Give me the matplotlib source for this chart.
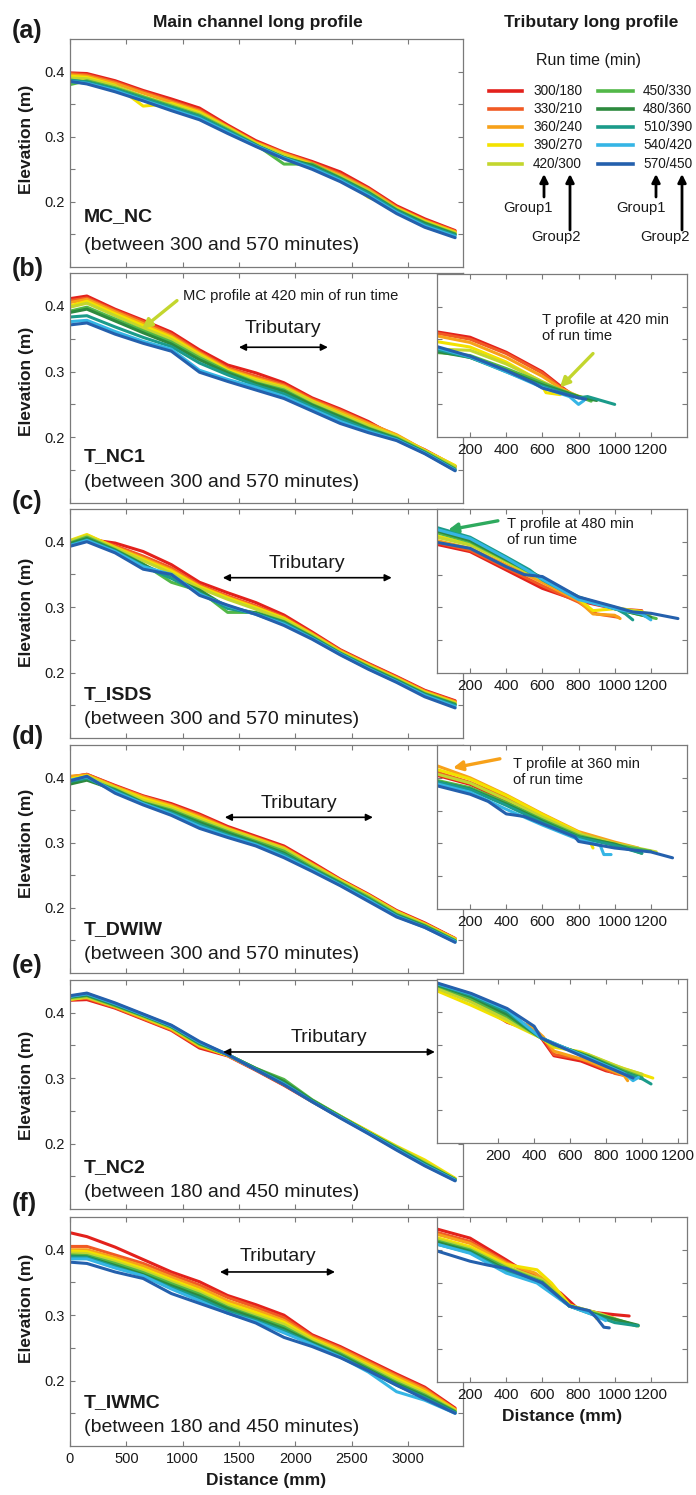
import matplotlib
matplotlib.use("Agg")
import matplotlib.pyplot as plt
from matplotlib import font_manager
from matplotlib.lines import Line2D

plt.rcParams['font.family'] = ['Liberation Sans', 'DejaVu Sans']

_names = {f.name for f in font_manager.fontManager.ttflist}
HAS_NARROW = 'Liberation Sans Narrow' in _names


def narrow(size):
    if HAS_NARROW:
        return dict(family=['Liberation Sans Narrow', 'Liberation Sans', 'DejaVu Sans'], fontsize=size)
    return dict(family=['Liberation Sans', 'DejaVu Sans'], fontsize=size * 0.82)


# ---------------- data ----------------
RUN_TIMES = ['300/180', '330/210', '360/240', '390/270', '420/300',
             '450/330', '480/360', '510/390', '540/420', '570/450']
COLORS = ['#e3211c', '#f15a24', '#f7a11a', '#f3e200', '#c3d62e',
          '#52b848', '#2d8a3e', '#1b9b8a', '#35b5e5', '#2460ad']

PANEL_LETTERS = ['(a)', '(b)', '(c)', '(d)', '(e)', '(f)']
PANEL_NAMES = ['MC_NC', 'T_NC1', 'T_ISDS', 'T_DWIW', 'T_NC2', 'T_IWMC']
PANEL_PERIODS = ['(between 300 and 570 minutes)', '(between 300 and 570 minutes)',
                 '(between 300 and 570 minutes)', '(between 300 and 570 minutes)',
                 '(between 180 and 450 minutes)', '(between 180 and 450 minutes)']

MAIN_X = [0, 150, 400, 650, 900, 1150, 1400, 1650, 1900, 2150, 2400, 2650, 2900, 3150, 3420]

MC_A = [
    [.398, .397, .386, .371, .358, .344, .318, .294, .276, .262, .246, .222, .194, .174, .156],
    [.397, .395, .384, .369, .355, .341, .316, .292, .275, .260, .243, .220, .192, .172, .155],
    [.395, .393, .382, .367, .353, .339, .315, .291, .274, .259, .241, .219, .191, .171, .154],
    [.393, .391, .379, .347, .351, .337, .314, .290, .272, .257, .238, .207, .190, .170, .153],
    [.390, .389, .378, .362, .349, .335, .313, .289, .271, .256, .239, .217, .189, .169, .152],
    [.380, .386, .375, .361, .347, .333, .311, .288, .258, .258, .237, .215, .188, .168, .151],
    [.386, .384, .373, .359, .345, .331, .309, .287, .268, .256, .236, .214, .187, .167, .150],
    [.387, .384, .373, .359, .345, .331, .309, .287, .268, .254, .235, .213, .186, .165, .149],
    [.385, .382, .371, .356, .342, .328, .307, .286, .267, .252, .233, .210, .184, .163, .147],
    [.385, .381, .369, .355, .340, .326, .305, .285, .266, .250, .231, .208, .182, .161, .145],
]
MC_B = [
    [.411, .415, .395, .378, .360, .333, .310, .298, .283, .260, .243, .224, .200, .181, .156],
    [.408, .412, .393, .376, .357, .330, .306, .293, .280, .258, .241, .222, .203, .180, .155],
    [.405, .410, .391, .373, .354, .328, .304, .290, .278, .256, .239, .221, .204, .180, .156],
    [.400, .407, .388, .370, .352, .326, .302, .288, .276, .255, .236, .218, .202, .180, .157],
    [.398, .404, .385, .366, .349, .324, .300, .286, .275, .254, .235, .217, .201, .179, .155],
    [.392, .398, .380, .362, .345, .321, .300, .283, .272, .250, .232, .214, .199, .178, .152],
    [.390, .395, .377, .359, .342, .318, .298, .282, .270, .249, .231, .213, .198, .177, .151],
    [.383, .385, .368, .352, .338, .313, .295, .279, .266, .246, .228, .211, .197, .176, .150],
    [.376, .378, .361, .346, .334, .302, .288, .276, .262, .243, .224, .209, .196, .176, .150],
    [.371, .374, .357, .343, .331, .299, .285, .272, .259, .240, .221, .207, .195, .175, .149],
]
MC_C = [
    [.397, .404, .398, .385, .365, .338, .322, .307, .288, .262, .235, .214, .194, .173, .157],
    [.399, .407, .394, .378, .360, .334, .317, .302, .285, .260, .234, .213, .193, .172, .156],
    [.400, .410, .392, .375, .357, .332, .315, .300, .283, .259, .233, .212, .192, .171, .155],
    [.402, .411, .391, .373, .355, .331, .314, .299, .283, .258, .232, .211, .191, .170, .154],
    [.401, .409, .390, .371, .352, .329, .312, .297, .281, .257, .231, .210, .190, .169, .153],
    [.398, .407, .388, .366, .338, .325, .292, .292, .278, .255, .230, .209, .189, .168, .152],
    [.397, .405, .387, .365, .345, .326, .300, .291, .277, .254, .229, .208, .188, .167, .151],
    [.395, .403, .386, .363, .344, .322, .298, .290, .276, .253, .229, .207, .187, .166, .150],
    [.394, .402, .385, .362, .350, .320, .302, .289, .274, .252, .228, .206, .186, .165, .148],
    [.393, .400, .383, .358, .350, .318, .303, .289, .272, .251, .227, .205, .185, .163, .146],
]
MC_D = [
    [.400, .405, .388, .372, .360, .344, .325, .310, .295, .270, .244, .221, .196, .177, .153],
    [.401, .405, .387, .371, .358, .342, .323, .308, .293, .268, .243, .220, .195, .176, .153],
    [.402, .404, .386, .370, .357, .340, .322, .307, .292, .267, .242, .219, .194, .175, .152],
    [.398, .403, .385, .368, .355, .338, .321, .306, .291, .266, .242, .219, .194, .175, .152],
    [.396, .402, .384, .365, .353, .336, .320, .305, .290, .265, .241, .218, .193, .174, .151],
    [.392, .398, .382, .362, .350, .333, .317, .302, .287, .262, .239, .216, .190, .173, .150],
    [.390, .396, .381, .361, .348, .331, .315, .300, .284, .260, .238, .214, .189, .172, .149],
    [.394, .399, .380, .360, .346, .328, .312, .298, .282, .259, .237, .213, .188, .171, .149],
    [.396, .401, .378, .360, .344, .325, .310, .297, .279, .258, .235, .212, .187, .170, .148],
    [.395, .402, .376, .358, .342, .322, .308, .295, .277, .256, .234, .210, .186, .170, .147],
]
MC_E = [
    [.419, .420, .407, .390, .373, .346, .334, .312, .289, .264, .240, .217, .192, .168, .145],
    [.421, .422, .408, .391, .374, .348, .335, .313, .290, .265, .241, .218, .193, .169, .146],
    [.422, .423, .409, .392, .375, .349, .335, .313, .290, .265, .241, .218, .194, .171, .146],
    [.420, .424, .410, .393, .376, .350, .335, .314, .291, .266, .242, .219, .196, .175, .147],
    [.421, .424, .410, .394, .377, .351, .336, .314, .291, .266, .242, .218, .195, .172, .146],
    [.423, .426, .411, .395, .378, .352, .336, .315, .298, .267, .242, .217, .194, .170, .145],
    [.424, .427, .412, .396, .379, .353, .336, .315, .295, .266, .241, .217, .193, .169, .145],
    [.425, .428, .413, .397, .380, .354, .336, .314, .292, .265, .240, .216, .192, .168, .144],
    [.425, .429, .414, .397, .380, .355, .336, .313, .291, .264, .240, .216, .191, .167, .144],
    [.426, .430, .415, .398, .381, .356, .336, .313, .290, .264, .239, .215, .190, .166, .143],
]
MC_F = [
    [.426, .420, .404, .385, .366, .351, .330, .316, .300, .270, .252, .231, .210, .190, .158],
    [.405, .405, .392, .379, .362, .346, .327, .312, .296, .268, .250, .229, .208, .188, .156],
    [.400, .400, .388, .375, .358, .342, .322, .308, .292, .266, .248, .227, .206, .186, .156],
    [.398, .397, .385, .371, .354, .338, .318, .304, .289, .264, .245, .224, .203, .183, .155],
    [.395, .394, .382, .368, .351, .335, .315, .300, .286, .262, .243, .222, .200, .181, .154],
    [.392, .391, .379, .365, .348, .332, .312, .297, .282, .259, .241, .219, .197, .178, .153],
    [.390, .389, .376, .362, .345, .329, .310, .295, .279, .258, .239, .217, .195, .176, .152],
    [.389, .388, .374, .360, .342, .326, .306, .292, .276, .256, .237, .215, .193, .174, .151],
    [.386, .386, .372, .360, .340, .322, .303, .290, .273, .255, .236, .213, .183, .170, .150],
    [.381, .379, .366, .356, .333, .318, .303, .288, .266, .252, .235, .215, .193, .172, .150],
]

TR_B_D = [[0, 200, 400, 600, 700, 750], [0, 200, 400, 600, 700, 780], [0, 200, 400, 600, 700, 800],
          [0, 200, 400, 580, 620, 700], [0, 200, 400, 600, 700, 850], [0, 200, 400, 600, 700, 870],
          [0, 200, 400, 600, 800, 900], [0, 200, 400, 600, 800, 850, 1000],
          [0, 200, 400, 600, 750, 800, 830], [0, 200, 400, 550, 600, 800, 840]]
TR_B_Z = [[.362, .353, .330, .300, .278, .268], [.360, .350, .328, .298, .276, .262],
          [.356, .345, .322, .293, .275, .262], [.347, .338, .315, .287, .268, .265],
          [.335, .333, .312, .285, .272, .258], [.330, .325, .305, .283, .272, .255],
          [.332, .322, .302, .280, .262, .256], [.335, .322, .300, .278, .260, .262, .250],
          [.338, .323, .300, .276, .262, .250, .256], [.340, .324, .302, .283, .275, .260, .258]]

TR_C_D = [[0, 200, 400, 600, 800, 1000, 1150], [0, 200, 400, 600, 800, 900, 1020],
          [0, 200, 400, 600, 800, 880, 1000, 1030], [0, 200, 400, 600, 800, 880, 1000, 1150],
          [0, 200, 400, 600, 800, 1000, 1200], [0, 200, 400, 600, 800, 1000, 1230],
          [0, 200, 400, 600, 800, 1000, 1200], [0, 200, 400, 530, 600, 800, 1000, 1060, 1100],
          [0, 200, 400, 600, 800, 1000, 1150, 1200],
          [0, 200, 400, 500, 600, 800, 1000, 1100, 1200, 1350]]
TR_C_Z = [[.397, .385, .357, .329, .310, .298, .295], [.400, .387, .360, .333, .308, .290, .285],
          [.403, .390, .365, .338, .310, .290, .288, .283], [.410, .396, .370, .343, .313, .295, .298, .294],
          [.408, .395, .370, .342, .315, .300, .290], [.415, .400, .372, .344, .316, .298, .283],
          [.418, .402, .373, .345, .315, .298, .285], [.423, .407, .377, .357, .342, .313, .299, .290, .281],
          [.420, .405, .375, .343, .312, .298, .290, .281],
          [.400, .390, .362, .350, .347, .316, .301, .293, .291, .283]]

TR_D_D = [[0, 200, 400, 600, 800, 1000, 1150], [0, 200, 400, 600, 800, 1000, 1100],
          [0, 200, 400, 600, 800, 1000, 1130], [0, 200, 400, 600, 800, 860, 880],
          [0, 200, 400, 600, 800, 1000, 1230], [0, 200, 400, 600, 800, 1000, 1200],
          [0, 200, 400, 600, 800, 1000, 1150], [0, 200, 400, 600, 800, 1000, 1150],
          [0, 200, 400, 600, 800, 920, 940, 980],
          [0, 200, 300, 400, 500, 600, 780, 800, 1000, 1200, 1320]]
TR_D_Z = [[.405, .390, .365, .335, .313, .297, .290], [.410, .393, .370, .340, .316, .300, .293],
          [.420, .400, .374, .345, .318, .302, .293], [.414, .398, .373, .344, .317, .305, .293],
          [.407, .392, .367, .340, .315, .300, .287], [.397, .385, .362, .336, .312, .298, .288],
          [.395, .383, .360, .334, .310, .299, .285], [.395, .382, .358, .332, .309, .297, .285],
          [.392, .378, .352, .328, .306, .297, .283, .283],
          [.389, .375, .364, .345, .341, .330, .310, .303, .293, .287, .278]]

TR_E_D = [[-140, 50, 250, 400, 440, 510, 660, 800, 880], [-140, 50, 250, 400, 450, 510, 660, 850, 900],
          [-140, 50, 250, 380, 450, 510, 700, 900, 920], [-140, 50, 250, 440, 510, 660, 850, 1060],
          [-140, 50, 250, 440, 510, 700, 900, 1000], [-140, 50, 250, 440, 510, 700, 900, 1000],
          [-140, 50, 250, 440, 510, 700, 900, 1000], [-140, 50, 250, 440, 510, 700, 900, 1000, 1050],
          [-140, 50, 250, 440, 510, 700, 900, 950, 980], [-140, 50, 250, 400, 440, 510, 660, 840, 950]]
TR_E_Z = [[.435, .418, .384, .370, .360, .333, .325, .310, .305], [.437, .420, .386, .375, .360, .335, .328, .306, .303],
          [.438, .422, .388, .379, .362, .340, .325, .303, .295], [.432, .410, .385, .360, .346, .339, .318, .299],
          [.436, .415, .388, .360, .348, .335, .313, .305], [.440, .420, .393, .360, .350, .333, .310, .300],
          [.441, .423, .396, .360, .351, .332, .308, .298], [.442, .425, .400, .360, .352, .330, .307, .298, .290],
          [.443, .427, .403, .360, .352, .330, .306, .295, .300], [.444, .428, .405, .378, .360, .351, .333, .312, .299]]

TR_F_D = [[0, 200, 400, 600, 700, 800, 900, 1000, 1080], [0, 200, 400, 550, 650, 750, 900, 1000],
          [0, 200, 400, 560, 650, 750, 900, 1050], [0, 200, 400, 570, 650, 750, 880, 900, 950, 1130],
          [0, 200, 400, 600, 750, 900, 1100], [0, 200, 400, 600, 750, 900, 1120],
          [0, 200, 400, 600, 750, 900, 1130], [0, 200, 400, 600, 750, 900, 1000, 1130],
          [0, 200, 400, 570, 600, 750, 900, 950], [0, 200, 300, 400, 600, 750, 860, 900, 940, 970]]
TR_F_Z = [[.433, .418, .385, .350, .335, .310, .305, .302, .300], [.428, .413, .382, .362, .345, .315, .305, .296],
          [.425, .410, .380, .365, .347, .316, .303, .290], [.420, .405, .378, .370, .350, .317, .305, .296, .298, .285],
          [.418, .402, .375, .355, .316, .305, .287], [.415, .400, .373, .352, .315, .303, .285],
          [.413, .398, .370, .350, .315, .302, .286], [.410, .396, .368, .348, .315, .300, .290, .285],
          [.410, .395, .365, .350, .344, .315, .300, .293], [.400, .383, .377, .372, .350, .315, .308, .297, .283, .282]]

MAIN_DATA = [MC_A, MC_B, MC_C, MC_D, MC_E, MC_F]
TRIB_DATA = {1: (TR_B_D, TR_B_Z), 2: (TR_C_D, TR_C_Z), 3: (TR_D_D, TR_D_Z),
             4: (TR_E_D, TR_E_Z), 5: (TR_F_D, TR_F_Z)}

# tributary reach arrows on main panels: (x0, x1, y_arrow, y_text)
TRIB_ARROWS = {1: (1500, 2290, 0.337, 0.365), 2: (1357, 2857, 0.345, 0.366),
               3: (1375, 2690, 0.339, 0.360), 4: (1360, 3240, 0.340, 0.362),
               5: (1332, 2353, 0.366, 0.389)}

# ---------------- layout ----------------
W, H = 696, 1495
fig = plt.figure(figsize=(W / 100, H / 100), dpi=100)
SPINE = '#7a7a7a'
TXT = '#1a1a1a'
LW = 2.2


def rect(l, t, w, h):
    return [l / W, 1 - (t + h) / H, w / W, h / H]


MAIN_BOXES = [(70, 39, 393, 228), (70, 273, 393, 230), (70, 509, 393, 229),
              (70, 745, 393, 228), (70, 980, 393, 229), (70, 1217, 393, 229)]
TRIB_BOXES = {1: (437, 274, 250, 163), 2: (437, 509, 250, 164), 3: (437, 745, 250, 164),
              4: (437, 979, 250, 164), 5: (437, 1217, 250, 165)}
YLABEL_Y = [0.56, 0.53, 0.55, 0.57, 0.54, 0.60]
NAME_Y = [0.22, 0.20, 0.19, 0.19, 0.18, 0.19]
PERIOD_Y = [0.096, 0.087, 0.08, 0.08, 0.07, 0.08]
LETTER_Y = [31, 269, 502, 737, 966, 1204]


def style_axes(ax, labelsize):
    for s in ax.spines.values():
        s.set_color(SPINE)
        s.set_linewidth(0.9)
    ax.tick_params(direction='in', top=True, right=True, length=3.5, width=0.8,
                   color=SPINE, labelsize=labelsize, labelcolor=TXT, pad=4)


for i in range(6):
    ax = fig.add_axes(rect(*MAIN_BOXES[i]), zorder=1)
    for k in range(10):
        ax.plot(MAIN_X, MAIN_DATA[i][k], color=COLORS[k], lw=LW,
                solid_capstyle='round', solid_joinstyle='round')
    ax.set_xlim(0, 3490)
    ax.set_ylim(0.1, 0.45)
    ax.set_xticks([0, 500, 1000, 1500, 2000, 2500, 3000])
    ax.set_yticks([0.15, 0.2, 0.25, 0.3, 0.35, 0.4])
    ax.set_yticklabels(['', '0.2', '', '0.3', '', '0.4'])
    style_axes(ax, 10.5)
    if i < 5:
        ax.tick_params(labelbottom=False)
    else:
        ax.set_xlabel('Distance (mm)', fontsize=12.5, fontweight='bold', color=TXT, labelpad=5)
    ax.set_ylabel('Elevation (m)', fontsize=12.5, fontweight='bold', color=TXT)
    ax.yaxis.set_label_coords(-0.092, YLABEL_Y[i])
    ax.text(0.035, NAME_Y[i], PANEL_NAMES[i], transform=ax.transAxes, fontsize=14,
            fontweight='bold', color=TXT, va='center', ha='left')
    ax.text(0.035, PERIOD_Y[i], PANEL_PERIODS[i], transform=ax.transAxes, fontsize=14,
            color=TXT, va='center', ha='left')
    fig.text(12 / W, 1 - LETTER_Y[i] / H, PANEL_LETTERS[i], fontsize=18, fontweight='bold',
             color=TXT, ha='left', va='center')
    if i in TRIB_ARROWS:
        x0, x1, ya, yt = TRIB_ARROWS[i]
        ax.annotate('', xy=(x1, ya), xytext=(x0, ya),
                    arrowprops=dict(arrowstyle='<|-|>', color='black', lw=1.2,
                                    mutation_scale=10, shrinkA=0, shrinkB=0))
        ax.text((x0 + x1) / 2, yt, 'Tributary', fontsize=14, color=TXT, ha='center', va='center')
    if i == 1:
        ax.annotate('', xy=(640, 0.365), xytext=(950, 0.408),
                    arrowprops=dict(arrowstyle='-|>', color=COLORS[4], lw=2.4,
                                    mutation_scale=14, shrinkA=0, shrinkB=0))
        ax.text(1003, 0.415, 'MC profile at 420 min of run time', color=TXT,
                ha='left', va='center', **narrow(13))

# tributary panels
TRIB_NOTES = {1: ('T profile at 420 min\nof run time', 598, 0.367, (697, 0.276), (880, 0.328), COLORS[4]),
              2: ('T profile at 480 min\nof run time', 404, 0.4145, (78, 0.418), (354, 0.432), '#2eaa5e'),
              3: ('T profile at 360 min\nof run time', 437, 0.409, (105, 0.415), (365, 0.429), COLORS[2])}

for j in range(1, 6):
    ax = fig.add_axes(rect(*TRIB_BOXES[j]), zorder=3)
    ax.set_facecolor('white')
    dlist, zlist = TRIB_DATA[j]
    for k in range(10):
        ax.plot(dlist[k], zlist[k], color=COLORS[k], lw=LW,
                solid_capstyle='round', solid_joinstyle='round')
    if j == 4:
        ax.set_xlim(-140, 1250)
    else:
        ax.set_xlim(17, 1400)
    ax.set_ylim(0.2, 0.45)
    ax.set_xticks([200, 400, 600, 800, 1000, 1200])
    ax.set_yticks([0.25, 0.3, 0.35, 0.4])
    ax.set_yticklabels([])
    style_axes(ax, 11)
    if j == 5:
        ax.set_xlabel('Distance (mm)', fontsize=12.5, fontweight='bold', color=TXT, labelpad=5)
    if j in TRIB_NOTES:
        txt, tx, ty, tip, tail, col = TRIB_NOTES[j]
        ax.annotate('', xy=tip, xytext=tail,
                    arrowprops=dict(arrowstyle='-|>', color=col, lw=2.4,
                                    mutation_scale=14, shrinkA=0, shrinkB=0))
        ax.text(tx, ty, txt, color=TXT, ha='left', va='center', linespacing=1.15, **narrow(13))

# headings
fig.text(258 / W, 1 - 22 / H, 'Main channel long profile', fontsize=12.5, fontweight='bold',
         color=TXT, ha='center', va='center')
fig.text(591 / W, 1 - 22 / H, 'Tributary long profile', fontsize=12.5, fontweight='bold',
         color=TXT, ha='center', va='center')
fig.text(589 / W, 1 - 60 / H, 'Run time (min)', fontsize=11.5, color=TXT, ha='center', va='center')

# legend (drawn manually)
ROW_Y = [91, 109, 127, 145, 164]
COL_LINE = [(489, 522, 533), (598, 633, 643)]
for k, lab in enumerate(RUN_TIMES):
    c, r = divmod(k, 5)
    x0, x1, xt = COL_LINE[c]
    y = 1 - ROW_Y[r] / H
    fig.add_artist(Line2D([x0 / W, x1 / W], [y, y], color=COLORS[k], lw=2.6,
                          transform=fig.transFigure))
    fig.text(xt / W, y, lab, color=TXT, ha='left', va='center', **narrow(12))

# group arrows
GROUPS = [('Group1', 528, 208, 544, 197), ('Group2', 556, 237, 570, 230),
          ('Group1', 641, 208, 656, 197), ('Group2', 665, 237, 682, 230)]
for lab, tx, ty, ax_x, ax_y in GROUPS:
    fig.text(tx / W, 1 - ty / H, lab, color=TXT, ha='center', va='center', **narrow(13))
    fig.add_artist(matplotlib.patches.FancyArrowPatch(
        (ax_x / W, 1 - ax_y / H), (ax_x / W, 1 - 174 / H), transform=fig.transFigure,
        arrowstyle='-|>', mutation_scale=12, color='black', lw=2.0, shrinkA=0, shrinkB=0))

fig.savefig('out.png', dpi=100, facecolor='white')
